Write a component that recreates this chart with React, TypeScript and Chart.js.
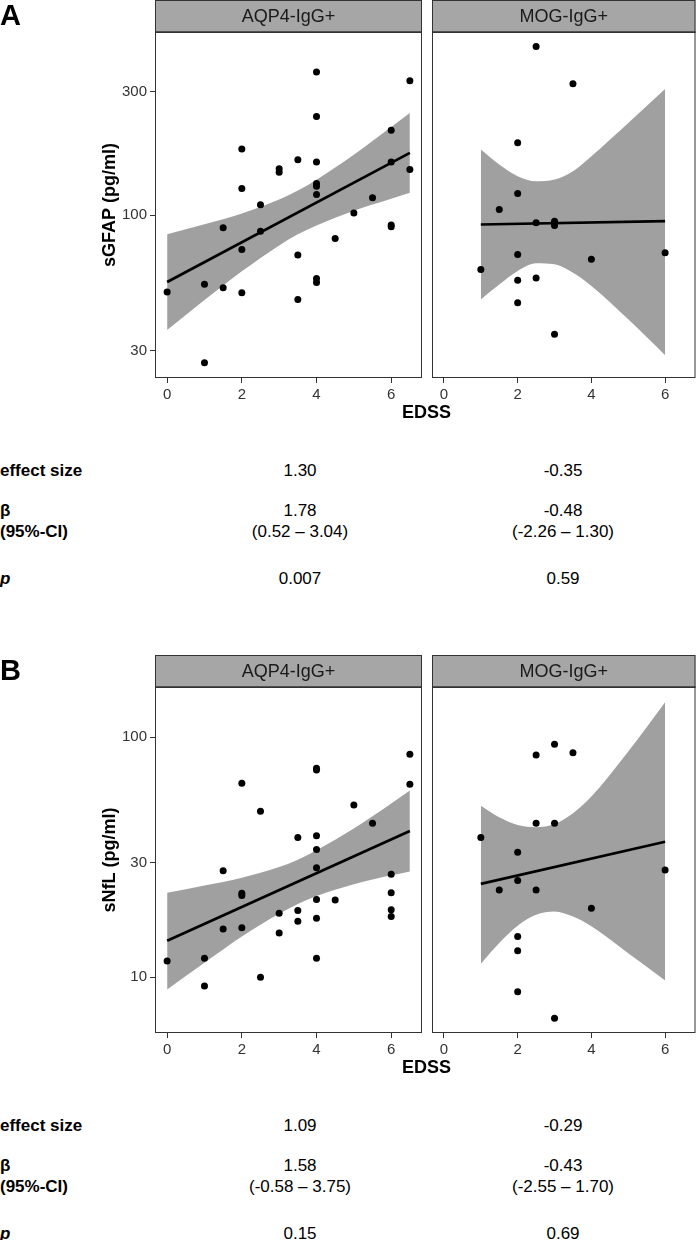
import React, { useEffect, useRef } from "react";
import { Chart, registerables } from "chart.js";

Chart.register(...registerables);

const FONT = "'Liberation Sans', Arial, Helvetica, sans-serif";
Chart.defaults.font.family = FONT;

// ---------- shared axis data ----------
const EDSS_TICKS = [0, 2, 4, 6];
const GFAP_TICKS = [30, 100, 300];
const NFL_TICKS = [10, 30, 100];
const GROUPS = ["AQP4-IgG+", "MOG-IgG+"];

// ---------- Panel A: sGFAP ----------
const A_AQP4_X = [0, 1, 1, 1.5, 1.5, 2, 2, 2, 2, 2.5, 2.5, 3, 3, 3.5, 3.5, 3.5, 4, 4, 4, 4, 4, 4, 4, 4, 4.5, 5, 5.5, 6, 6, 6, 6, 6.5, 6.5];
const A_AQP4_Y = [50.6, 54.2, 27.0, 89.5, 52.6, 180, 126.7, 73.8, 50.3, 109.7, 86.8, 150.9, 146.4, 163.4, 70.2, 47.4, 356, 240, 160.5, 132.5, 129.4, 120.2, 57, 55, 81.4, 102, 116.7, 212.4, 160.5, 91.6, 90.3, 330, 150];
const A_AQP4_FIT_X = [0, 6.5];
const A_AQP4_FIT_Y = [55.3, 173.8];
const A_AQP4_BAND_X = [0, 1, 2, 3, 3.5, 4, 5, 6, 6.5];
const A_AQP4_BAND_HI = [84.5, 92.3, 101.6, 115, 124.5, 137.1, 171, 218.9, 247.6];
const A_AQP4_BAND_LO = [36.1, 47.1, 60.8, 76.5, 84.4, 91.3, 104, 115.7, 122];

const A_MOG_X = [1, 1.5, 2, 2, 2, 2, 2, 2.5, 2.5, 2.5, 3, 3, 3, 3.5, 4, 6];
const A_MOG_Y = [61.8, 105.2, 190, 121.3, 70.6, 56.2, 46, 446.8, 93.6, 57.3, 94.9, 91.3, 34.8, 321, 67.6, 71.7];
const A_MOG_FIT_X = [1, 6];
const A_MOG_FIT_Y = [92.1, 94.9];
const A_MOG_BAND_X = [1, 1.5, 2, 2.5, 3, 3.5, 4, 5, 6];
const A_MOG_BAND_HI = [179, 156.8, 141.4, 135.2, 137.2, 147.8, 168.8, 226.7, 306.4];
const A_MOG_BAND_LO = [47.4, 54.1, 61, 65.3, 64.7, 60, 53.4, 39.7, 28.9];

// ---------- Panel B: sNfL ----------
const B_AQP4_X = [0, 1, 1, 1.5, 1.5, 2, 2, 2, 2, 2.5, 2.5, 3, 3, 3.5, 3.5, 3.5, 4, 4, 4, 4, 4, 4, 4, 4, 4.5, 5, 5.5, 6, 6, 6, 6, 6.5, 6.5];
const B_AQP4_Y = [11.7, 12.0, 9.2, 27.8, 15.9, 64.3, 22.4, 21.9, 16.1, 49.2, 10.0, 18.5, 15.3, 38.2, 19.0, 17.1, 74.3, 73.1, 38.9, 34.1, 28.6, 21.1, 17.6, 12.0, 21, 52.2, 43.8, 26.9, 22.5, 19.1, 17.9, 85, 63.7];
const B_AQP4_FIT_X = [0, 6.5];
const B_AQP4_FIT_Y = [14.2, 40.7];
const B_AQP4_BAND_X = [0, 1, 2, 3, 3.5, 4, 5, 6, 6.5];
const B_AQP4_BAND_HI = [22.5, 24.1, 26.0, 28.8, 30.9, 33.8, 41.7, 53.0, 60.0];
const B_AQP4_BAND_LO = [8.9, 11.5, 14.8, 18.4, 20.2, 21.8, 24.4, 26.6, 27.6];

const B_MOG_X = [1, 1.5, 2, 2, 2, 2, 2, 2.5, 2.5, 2.5, 3, 3, 3, 3.5, 4, 6];
const B_MOG_Y = [38.2, 23.1, 33.2, 25.3, 14.8, 12.9, 8.7, 84.4, 43.8, 23.1, 93.5, 43.8, 6.75, 86.3, 19.4, 28.0];
const B_MOG_FIT_X = [1, 6];
const B_MOG_FIT_Y = [24.5, 36.7];
const B_MOG_BAND_X = [1, 1.5, 2, 2.5, 3, 3.5, 4, 5, 6];
const B_MOG_BAND_HI = [51.9, 46.4, 43.1, 42.2, 43.5, 48.2, 56.6, 87.2, 139.9];
const B_MOG_BAND_LO = [11.4, 13.9, 16.4, 18.2, 18.8, 17.9, 16.3, 12.6, 9.7];

// ---------- stats tables ----------
const STAT_LABELS = ["effect size", "β", "(95%-CI)", "p"];
const A_EFFECT = ["1.30", "-0.35"];
const A_BETA = ["1.78", "-0.48"];
const A_CI = ["(0.52 – 3.04)", "(-2.26 – 1.30)"];
const A_P = ["0.007", "0.59"];
const B_EFFECT = ["1.09", "-0.29"];
const B_BETA = ["1.58", "-0.43"];
const B_CI = ["(-0.58 – 3.75)", "(-2.55 – 1.70)"];
const B_P = ["0.15", "0.69"];

// ---------- styling ----------
const X_MIN = -0.325;
const X_MAX = 6.825;
const STRIP_H = 32;
const STRIP_FILL = "#a6a6a6";
const BAND_FILL = "#a0a0a0";
const FRAME = "#333333";
const TICK_TEXT = "#333333";

const framePlugin = {
  id: "frame",
  afterDraw(chart: any, _args: any, opts: any) {
    const { ctx, chartArea } = chart;
    const { left, right, top, bottom } = chartArea;
    ctx.save();
    ctx.fillStyle = STRIP_FILL;
    ctx.fillRect(left, top - STRIP_H, right - left, STRIP_H);
    ctx.strokeStyle = FRAME;
    ctx.lineWidth = 1;
    ctx.strokeRect(left + 0.5, top - STRIP_H + 0.5, right - left - 1, STRIP_H);
    ctx.strokeRect(left + 0.5, top + 0.5, right - left - 1, bottom - top - 1);
    ctx.beginPath();
    ctx.lineWidth = 1.5;
    ctx.moveTo(left, top);
    ctx.lineTo(right, top);
    ctx.stroke();
    ctx.fillStyle = "#1a1a1a";
    ctx.font = `18px ${FONT}`;
    ctx.textAlign = "center";
    ctx.textBaseline = "middle";
    ctx.fillText(opts.label, (left + right) / 2, top - STRIP_H / 2 + 1);
    ctx.restore();
  },
};

type PanelSpec = {
  left: number;
  top: number;
  width: number;
  height: number;
  padLeft: number;
  padRight: number;
  strip: string;
  yTitle?: string;
  yTicks: number[];
  yMin: number;
  yMax: number;
  px: number[];
  py: number[];
  fitX: number[];
  fitY: number[];
  bandX: number[];
  bandHi: number[];
  bandLo: number[];
};

function buildConfig(s: PanelSpec): any {
  const pts = s.px.map((x, i) => ({ x, y: s.py[i] }));
  const fit = s.fitX.map((x, i) => ({ x, y: s.fitY[i] }));
  const hi = s.bandX.map((x, i) => ({ x, y: s.bandHi[i] }));
  const lo = s.bandX.map((x, i) => ({ x, y: s.bandLo[i] }));
  const showY = !!s.yTitle;
  const tickGrid = {
    display: true,
    drawOnChartArea: false,
    drawTicks: true,
    tickLength: 5,
    color: FRAME,
    lineWidth: 1,
  };
  return {
    type: "line",
    data: {
      datasets: [
        {
          data: pts,
          showLine: false,
          pointRadius: 3.5,
          pointHoverRadius: 3.5,
          pointBackgroundColor: "#000",
          pointBorderWidth: 0,
          order: 0,
        },
        {
          data: fit,
          borderColor: "#000",
          borderWidth: 2.7,
          pointRadius: 0,
          fill: false,
          order: 1,
        },
        {
          data: hi,
          borderColor: "rgba(0,0,0,0)",
          borderWidth: 0,
          pointRadius: 0,
          fill: "+1",
          backgroundColor: BAND_FILL,
          cubicInterpolationMode: "monotone",
          order: 2,
        },
        {
          data: lo,
          borderColor: "rgba(0,0,0,0)",
          borderWidth: 0,
          pointRadius: 0,
          fill: false,
          cubicInterpolationMode: "monotone",
          order: 3,
        },
      ],
    },
    options: {
      animation: false,
      responsive: false,
      events: [],
      layout: { padding: { top: STRIP_H, left: s.padLeft, right: s.padRight, bottom: 0 } },
      plugins: {
        legend: { display: false },
        tooltip: { enabled: false },
        frame: { label: s.strip },
      },
      scales: {
        x: {
          type: "linear",
          min: X_MIN,
          max: X_MAX,
          afterBuildTicks: (sc: any) => {
            sc.ticks = EDSS_TICKS.map((v) => ({ value: v }));
          },
          afterFit: (sc: any) => {
            sc.height = 52;
          },
          grid: tickGrid,
          border: { display: false },
          ticks: {
            padding: 3,
            maxRotation: 0,
            autoSkip: false,
            color: TICK_TEXT,
            font: { size: 15, family: FONT },
            callback: (v: any) => String(v),
          },
        },
        y: {
          type: "logarithmic",
          display: showY,
          min: s.yMin,
          max: s.yMax,
          afterBuildTicks: (sc: any) => {
            sc.ticks = s.yTicks.map((v) => ({ value: v }));
          },
          afterFit: (sc: any) => {
            sc.width = showY ? 155 : 0;
          },
          grid: tickGrid,
          border: { display: false },
          ticks: {
            padding: 3,
            autoSkip: false,
            color: TICK_TEXT,
            font: { size: 15, family: FONT },
            callback: (v: any) => String(v),
          },
          title: {
            display: showY,
            text: s.yTitle || "",
            color: "#000",
            font: { size: 18, weight: "bold", family: FONT },
            padding: { top: 99, bottom: 0 },
          },
        },
      },
    },
    plugins: [framePlugin],
  };
}

function PanelChart({ spec }: { spec: PanelSpec }) {
  const ref = useRef<HTMLCanvasElement>(null);
  useEffect(() => {
    if (!ref.current) return;
    const chart = new Chart(ref.current, buildConfig(spec));
    return () => chart.destroy();
  }, []);
  return (
    <canvas
      ref={ref}
      width={spec.width}
      height={spec.height}
      style={{ position: "absolute", left: spec.left, top: spec.top, width: spec.width, height: spec.height }}
    />
  );
}

function Txt({
  x,
  base,
  text,
  size = 16,
  bold = false,
  italic = false,
  center = false,
}: {
  x: number;
  base: number;
  text: string;
  size?: number;
  bold?: boolean;
  italic?: boolean;
  center?: boolean;
}) {
  const top = base - 0.8465 * size;
  const style: any = {
    position: "absolute",
    top,
    fontFamily: FONT,
    fontSize: size,
    lineHeight: `${size}px`,
    fontWeight: bold ? "bold" : "normal",
    fontStyle: italic ? "italic" : "normal",
    color: "#000",
    whiteSpace: "nowrap",
  };
  if (center) {
    style.left = x - 150;
    style.width = 300;
    style.textAlign = "center";
  } else {
    style.left = x;
  }
  return <div style={style}>{text}</div>;
}

function Section({ off, letter, yTitle, yTicks, yMin, yMax, aqp4, mog, effect, beta, ci, p }: any) {
  const aqp4Spec: PanelSpec = {
    left: 0,
    top: off,
    width: 430,
    height: 430,
    padLeft: 0,
    padRight: 8,
    strip: GROUPS[0],
    yTitle,
    yTicks,
    yMin,
    yMax,
    ...aqp4,
  };
  const mogSpec: PanelSpec = {
    left: 427,
    top: off,
    width: 272,
    height: 430,
    padLeft: 5,
    padRight: 1,
    strip: GROUPS[1],
    yTicks,
    yMin,
    yMax,
    ...mog,
  };
  const cols = [300, 563];
  const rows = [476, 516, 537, 584].map((b) => b + off);
  return (
    <>
      <PanelChart spec={aqp4Spec} />
      <PanelChart spec={mogSpec} />
      <Txt x={0} base={off + 26} text={letter} size={29} bold />
      <Txt x={426.5} base={off + 418} text="EDSS" size={18} bold center />
      <Txt x={0} base={rows[0]} text={STAT_LABELS[0]} size={17} bold />
      <Txt x={0} base={rows[1]} text={STAT_LABELS[1]} size={17} bold />
      <Txt x={0} base={rows[2]} text={STAT_LABELS[2]} size={17} bold />
      <Txt x={0} base={rows[3]} text={STAT_LABELS[3]} size={17} bold italic />
      {cols.map((cx, i) => (
        <React.Fragment key={i}>
          <Txt x={cx} base={rows[0]} text={effect[i]} size={17} center />
          <Txt x={cx} base={rows[1]} text={beta[i]} size={17} center />
          <Txt x={cx} base={rows[2]} text={ci[i]} size={17} center />
          <Txt x={cx} base={rows[3]} text={p[i]} size={17} center />
        </React.Fragment>
      ))}
    </>
  );
}

export default function App() {
  return (
    <div
      style={{
        position: "absolute",
        left: 0,
        top: 0,
        width: 699,
        height: 1240,
        overflow: "hidden",
        background: "#fff",
      }}
    >
      <Section
        off={0}
        letter="A"
        yTitle="sGFAP (pg/ml)"
        yTicks={GFAP_TICKS}
        yMin={23.6}
        yMax={508}
        aqp4={{
          px: A_AQP4_X,
          py: A_AQP4_Y,
          fitX: A_AQP4_FIT_X,
          fitY: A_AQP4_FIT_Y,
          bandX: A_AQP4_BAND_X,
          bandHi: A_AQP4_BAND_HI,
          bandLo: A_AQP4_BAND_LO,
        }}
        mog={{
          px: A_MOG_X,
          py: A_MOG_Y,
          fitX: A_MOG_FIT_X,
          fitY: A_MOG_FIT_Y,
          bandX: A_MOG_BAND_X,
          bandHi: A_MOG_BAND_HI,
          bandLo: A_MOG_BAND_LO,
        }}
        effect={A_EFFECT}
        beta={A_BETA}
        ci={A_CI}
        p={A_P}
      />
      <Section
        off={655}
        letter="B"
        yTitle="sNfL (pg/ml)"
        yTicks={NFL_TICKS}
        yMin={5.86}
        yMax={162}
        aqp4={{
          px: B_AQP4_X,
          py: B_AQP4_Y,
          fitX: B_AQP4_FIT_X,
          fitY: B_AQP4_FIT_Y,
          bandX: B_AQP4_BAND_X,
          bandHi: B_AQP4_BAND_HI,
          bandLo: B_AQP4_BAND_LO,
        }}
        mog={{
          px: B_MOG_X,
          py: B_MOG_Y,
          fitX: B_MOG_FIT_X,
          fitY: B_MOG_FIT_Y,
          bandX: B_MOG_BAND_X,
          bandHi: B_MOG_BAND_HI,
          bandLo: B_MOG_BAND_LO,
        }}
        effect={B_EFFECT}
        beta={B_BETA}
        ci={B_CI}
        p={B_P}
      />
    </div>
  );
}
